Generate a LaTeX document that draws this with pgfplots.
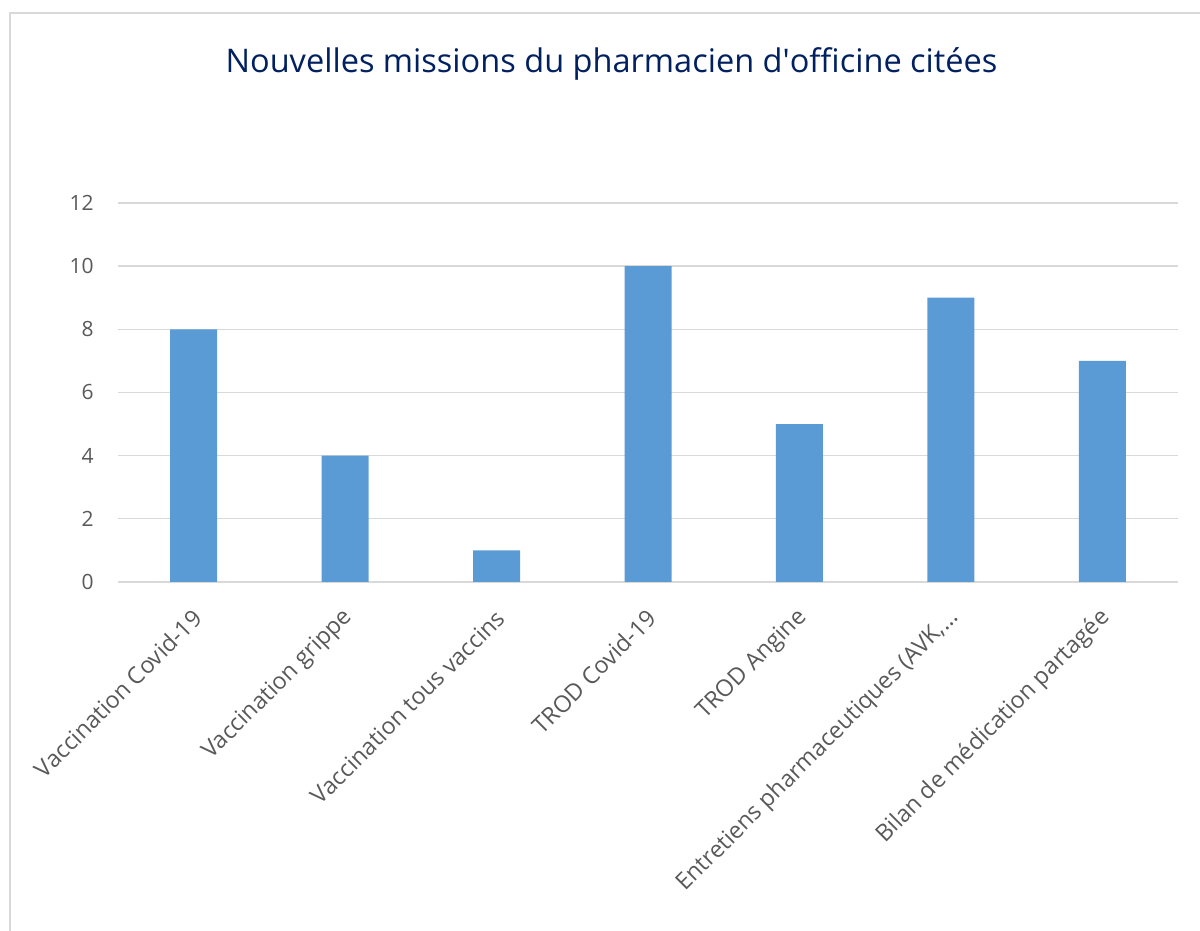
\documentclass[border=0pt]{standalone}
\usepackage{pgfplots}
\pgfplotsset{compat=1.18}
\usepackage{fontspec}
\setmainfont{Open Sans}
\definecolor{barblue}{HTML}{5B9BD5}
\definecolor{gridgray}{HTML}{D9D9D9}
\definecolor{labelgray}{HTML}{595959}
\definecolor{titleblue}{HTML}{002060}
\begin{document}
\begin{tikzpicture}[x=0.75pt,y=0.75pt]
\path[use as bounding box] (0,0) rectangle (1200,931);
\draw[gridgray, line width=1pt] (10,-5) -- (10,918) -- (1205,918);
\node[anchor=base, text=titleblue, font=\fontsize{24.4}{28}\selectfont, inner sep=0pt] at (611.5,858) {Nouvelles missions du pharmacien d\textquotesingle officine citées};
\begin{axis}[
  at={(88.5pt,261.75pt)}, anchor=south west,
  width=795pt, height=284.25pt, scale only axis,
  xmin=-0.5, xmax=6.5, ymin=0, ymax=12,
  axis line style={draw=none},
  ytick={0,2,...,12},
  ymajorgrids, grid style={gridgray, line width=1pt},
  major tick length=0pt, tick style={draw=none},
  xtick={0,...,6},
  xticklabels={Vaccination Covid-19, Vaccination grippe, Vaccination tous vaccins, TROD Covid-19, TROD Angine, {Entretiens pharmaceutiques (AVK,…}, Bilan de médication partagée},
  /pgf/number format/assume math mode=true,
  ticklabel style={text=labelgray, inner sep=0pt},
  y tick label style={font=\fontsize{15.75}{18}\selectfont, anchor=east, xshift=-18pt},
  x tick label style={font=\fontsize{17.5}{20}\selectfont, anchor=east, xshift=3pt, yshift=-24pt, rotate=45},
  clip=false,
]
\addplot[ybar, bar width=35.25pt, fill=barblue, draw=none] coordinates {(0,8) (1,4) (2,1) (3,10) (4,5) (5,9) (6,7)};
\end{axis}
\end{tikzpicture}
\end{document}
